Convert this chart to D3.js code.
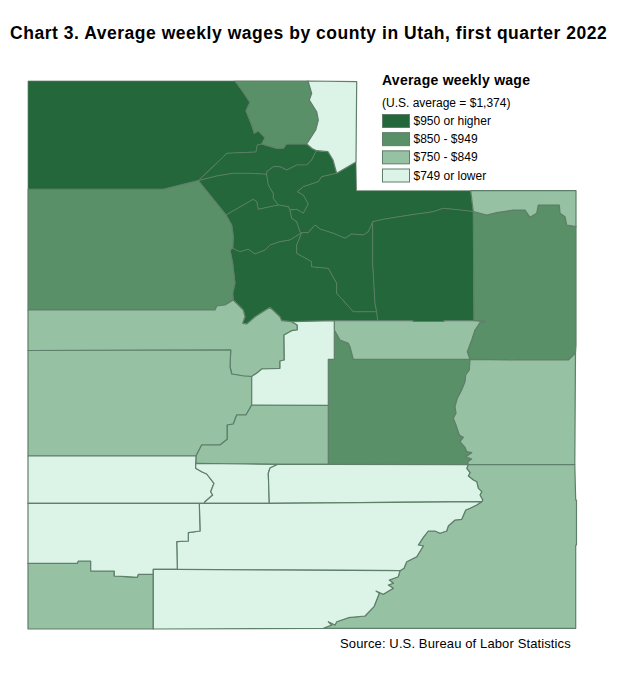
<!DOCTYPE html>
<html>
<head>
<meta charset="utf-8">
<script src="https://cdn.jsdelivr.net/npm/d3@7"></script>
<style>
	html, body { margin: 0; padding: 0; background: #fff; }
	svg { display: block; }
	text { font-family: "Liberation Sans", Arial, sans-serif; fill: #000; }
</style>
</head>
<body>
<div id="chart"></div>
<script>
var titleText = 'Chart 3. Average weekly wages by county in Utah, first quarter 2022';
var sourceText = 'Source: U.S. Bureau of Labor Statistics';
var legendTitle = 'Average weekly wage';
var legendNote = '(U.S. average = $1,374)';
var legendLabels = ['$950 or higher', '$850 - $949', '$750 - $849', '$749 or lower'];

var countyNames = ['Box Elder', 'Cache', 'Rich', 'Weber', 'Davis', 'Morgan', 'Salt Lake', 'Summit', 'Tooele', 'Utah',
	'Wasatch', 'Duchesne', 'Daggett', 'Uintah', 'Carbon', 'Emery', 'Grand', 'Sanpete', 'Juab', 'Millard',
	'Sevier', 'Beaver', 'Piute', 'Wayne', 'Garfield', 'Iron', 'Kane', 'Washington', 'San Juan'];
// index into legendLabels, same order as countyNames
var countyClasses = [0, 1, 3, 0, 0, 0, 0, 0, 1, 0,
	0, 0, 2, 1, 2, 1, 2, 3, 2, 2,
	2, 3, 3, 3, 3, 3, 3, 2, 2];

var boxCache = [[235,81],[241.7,90],[250,102.3],[246,110.7],[251.7,125],[254.3,133.3],[258.3,130.7],[265,137.7],[261.7,144]];
var boxWeber = [[261.7,144],[257.3,145],[256,152],[227,153.3],[198.3,180.7]];
var boxTooele = [[198.3,180.7],[163.3,189.3],[28,189.3]];
var cacheWeber = [[261.7,144],[276.7,148.3],[283.3,148.3],[286.7,144],[306.7,144]];
var cacheRich = [[308,81],[311.7,93.3],[309.3,100],[316.7,111.7],[318.3,120],[315.7,130],[306.7,144]];
var weberRich = [[306.7,144],[312,148.5],[316.7,150.7]];
var morganRich = [[316.7,150.7],[328,151.7],[333,160],[336.7,173.3]];
var summitRich = [[336.7,173.3],[356,162]];
var weberDavis = [[198.3,180.7],[216.7,176],[233.3,173.3],[250,173.3],[266.7,174.3]];
var weberMorgan = [[266.7,174.3],[266.7,171.7],[273.3,166.7],[280,166.7],[286.7,170],[296.7,165],[306.7,165],[311.7,160],[315,153.3],[316.7,150.7]];
var davisMorgan = [[266.7,174.3],[268.3,185],[273.3,193.3],[273.3,198.3],[278.3,205]];
var morganSaltLake = [[278.3,205],[288.3,206.7],[290,210]];
var morganSummit = [[290,210],[296.7,209.3],[303.3,213.3],[308.3,204],[303.3,195],[297.3,191.7],[303.3,186.7],[318.3,181.7],[321.7,176.7],[336.7,173.3]];
var saltLakeSummit = [[290,210],[291.7,218.3],[296.7,221.7],[300,231.7],[301.7,232.7]];
var davisSaltLake = [[226,215],[253.3,199.3],[256.7,201.7],[258.3,209.3],[278.3,205]];
var tooeleDavis = [[198.3,180.7],[226,215]];
var tooeleSaltLake = [[226,215],[231.7,225],[233.3,236.7],[232.7,248.3]];
var saltLakeUtah = [[232.7,248.3],[240,251.7],[248.3,249.3],[255,254],[265,250],[270,245],[280,241.7],[290,240],[301.7,232.7]];
var tooeleUtah = [[232.7,248.3],[230,250],[232.7,263.3],[235,283.3],[232.7,293.3],[233.3,300]];
var tooeleJuab = [[233.3,300],[225,305],[216.7,306],[215,310],[28,310]];
var utahJuab = [[233.3,300],[243.3,310],[245,316.7],[242.7,323.3],[246.7,324],[255,316.7],[270,307.3],[280,316.7],[281.7,320.7],[291.7,321.7]];
var utahSanpete = [[291.7,321.7],[334.3,320.7]];
var utahCarbon = [[334.3,320.7],[377.7,320.7]];
var utahWasatch = [[301.7,232.7],[296.7,245],[296.7,253.3],[311.7,261.7],[311.7,266.7],[328.3,268.3],[336.7,283.3],[336.7,293.3],[353.3,311.7],[376.7,311.7]];
var summitWasatch = [[301.7,232.7],[308.3,232.7],[315,225],[320,229],[333.3,233.3],[345,238.3],[351.7,234],[363.3,235],[368.3,231.7],[371,226],[372.7,221.7]];
var wasatchDuchesne = [[372.7,221.7],[372.7,263.3],[375,303.3],[376.7,311.7]];
var utahDuchesne = [[376.7,311.7],[377.7,320.7]];
var summitDuchesne = [[372.7,221.7],[383.3,219.3],[410,215],[433.3,211.7],[443.3,208.3],[460,210],[473.3,211.5]];
var summitDaggett = [[470.7,190.7],[473.3,211.5]];
var duchesneUintah = [[473.3,211.5],[474,320.7]];
var duchesneCarbon = [[377.7,320.7],[413,320.7],[413,321.5],[444,321.5],[444,320.7],[474,320.7]];
var daggettUintah = [[473.3,211.5],[486.7,215],[496.7,212.7],[513.3,210],[525,210],[530,217.3],[536.7,213.3],[538.3,205],[559.3,205],[560,213.3],[565,216.7],[566.7,225],[576,226.7]];
var uintahCarbon = [[474,320.7],[485,321.7],[480,322.7],[475,330],[471.7,340],[467.3,351.7],[470,359.3]];
var uintahGrand = [[575.5,353],[568.3,360],[518,360],[470,359.3]];
var carbonEmery = [[334.3,330],[340,340],[348.3,343.3],[350,346.7],[353.3,359.3],[470,359.3]];
var carbonSanpete = [[334.3,320.7],[334.3,330]];
var emeryGrand = [[470,359.3],[469.3,370],[465.7,375],[465,381.7],[461.7,390],[457.3,398.3],[455,406.7],[456,413.3],[453.3,418.3],[456,425],[459.3,435],[463.3,437.3],[460,441.7],[465,447.3],[466.7,451.7],[471.7,452.7],[465.7,456.7],[471.7,459],[467.7,461.7],[468.3,464.7]];
var emerySanpete = [[334.3,330],[334.3,359.3],[328.3,359.3],[328.3,405.3]];
var emerySevier = [[328.3,405.3],[328.3,464.3]];
var emeryWayne = [[328.3,464.3],[468.3,464.7]];
var grandSanJuan = [[468.3,464.7],[574.8,464.5]];
var sanpeteSevier = [[328.3,405.3],[251.7,405]];
var sanpeteMillard = [[251.7,405],[251.7,376.5]];
var sanpeteJuab = [[251.7,376.5],[257.3,372.7],[261.7,369],[280,368.3],[280,361],[284.3,360],[284,335],[291.7,330.7],[297.3,330],[297.3,325],[291.7,321.7]];
var juabMillard = [[251.7,376.5],[244,376],[231.7,374],[230,366.7],[230.7,350],[28,350.5]];
var millardSevier = [[251.7,405],[246,415],[236.7,415],[233.3,424],[227.3,425],[227.3,439.3],[220,445],[201.7,445],[196,456]];
var millardBeaver = [[196,456],[28,456]];
var sevierBeaver = [[196,456],[195.7,463.3]];
var sevierPiute = [[195.7,463.3],[245,464],[278,464.3]];
var sevierWayne = [[278,464.3],[328.3,464.3]];
var beaverPiute = [[195.7,463.3],[195.7,468.3],[201.7,471.7],[206.7,474],[214,483.3],[210.7,491.7],[212.7,495],[205,501.7],[204.3,503.3]];
var beaverGarfield = [[204.3,503.3],[199.3,503.3]];
var beaverIron = [[199.3,503.3],[28,503.3]];
var piuteWayne = [[278,464.3],[270,468],[268.3,473.3],[269.3,503.3]];
var piuteGarfield = [[204.3,503.3],[269.3,503.3]];
var wayneGarfield = [[269.3,503.3],[481.7,501.7]];
var wayneSanJuan = [[468.3,464.7],[466.7,468.3],[470,472.7],[468.3,476],[473.3,480],[476.7,481.7],[478.3,488.3],[481.7,491.7],[480,495],[482.7,500],[481.7,501.7]];
var garfieldSanJuan = [[481.7,501.7],[476.7,505],[470,508.3],[465.7,510],[461.7,519.3],[455,520],[448.3,526],[446.7,531],[440,533.3],[435,531],[428.3,531],[423.3,537.3],[418.3,545],[423.3,546],[416.7,556.7],[406.7,561.7],[404,568.3],[400,570.7]];
var garfieldKane = [[177.3,569.3],[400,570.7]];
var ironGarfield = [[199.3,503.3],[200,531],[188.3,532.7],[188.3,541],[176.7,541.7],[177.3,569.3]];
var ironKane = [[153.3,569.3],[177.3,569.3]];
var ironKaneWest = [[153.3,574.3],[153.3,569.3]];
var ironWashington = [[28,563.3],[77.3,563.3],[78.3,561],[90.7,561],[90.7,571],[114.3,571],[114.3,576],[126.7,576.7],[137.3,577.3],[138.3,574.3],[153.3,574.3]];
var washingtonKane = [[153.3,574.3],[153.3,629]];
var kaneSanJuan = [[400,570.7],[398.3,576.7],[389.3,580],[393.3,583.3],[388.3,585],[393.3,588.3],[383.3,594.3],[376,591],[379.3,593.3],[374,606.7],[365,616],[348.3,617.7],[336.7,621.7],[335,625],[328.3,621.7],[331.7,625],[323.3,628.3]];

function rev(arc) {
	return arc.slice().reverse();
}

// join boundaries into one closed ring
function chain() {
	var ring = [];
	for (var i = 0; i < arguments.length; i++) {
		ring = ring.concat(arguments[i]);
	}
	ring.push(ring[0]);
	return ring;
}

var countyRings = [
	chain([[28,81]], boxCache, boxWeber, boxTooele),
	chain(boxCache.slice(0, 1), cacheRich, rev(cacheWeber), rev(boxCache)),
	chain([[308,81],[356.7,81.7]], rev(summitRich), rev(morganRich), rev(weberRich), rev(cacheRich)),
	chain(cacheWeber, weberRich, rev(weberMorgan), rev(weberDavis), rev(boxWeber)),
	chain(weberDavis, davisMorgan, rev(davisSaltLake), rev(tooeleDavis)),
	chain(weberMorgan, morganRich, rev(morganSummit), rev(morganSaltLake), rev(davisMorgan)),
	chain(davisSaltLake, morganSaltLake, saltLakeSummit, rev(saltLakeUtah), rev(tooeleSaltLake)),
	chain(morganSummit, summitRich, [[356.5,190.7]], summitDaggett, rev(summitDuchesne), rev(summitWasatch), rev(saltLakeSummit)),
	chain(tooeleDavis, tooeleSaltLake, tooeleUtah, tooeleJuab, rev(boxTooele)),
	chain(saltLakeUtah, utahWasatch, utahDuchesne, rev(utahCarbon), rev(utahSanpete), rev(utahJuab), rev(tooeleUtah)),
	chain(summitWasatch, wasatchDuchesne, rev(utahWasatch)),
	chain(summitDuchesne, duchesneUintah, rev(duchesneCarbon), rev(utahDuchesne), rev(wasatchDuchesne)),
	chain(summitDaggett, daggettUintah, [[576,190.7]]),
	chain(daggettUintah, [[576,345]], uintahGrand, rev(uintahCarbon), rev(duchesneUintah)),
	chain(utahCarbon, duchesneCarbon, uintahCarbon, rev(carbonEmery), rev(carbonSanpete)),
	chain(carbonEmery, emeryGrand, rev(emeryWayne), rev(emerySevier), rev(emerySanpete)),
	chain(rev(uintahGrand), rev(grandSanJuan), rev(emeryGrand)),
	chain(utahSanpete, carbonSanpete, emerySanpete, sanpeteSevier, sanpeteMillard, sanpeteJuab),
	chain(utahJuab, rev(sanpeteJuab), juabMillard, rev(tooeleJuab)),
	chain(rev(juabMillard), rev(sanpeteMillard), millardSevier, millardBeaver),
	chain(millardSevier, sevierBeaver, sevierPiute, sevierWayne, rev(emerySevier), sanpeteSevier),
	chain(rev(millardBeaver), sevierBeaver, beaverPiute, beaverGarfield, beaverIron),
	chain(sevierPiute, piuteWayne, rev(piuteGarfield), rev(beaverPiute)),
	chain(sevierWayne, emeryWayne, wayneSanJuan, rev(wayneGarfield), rev(piuteWayne)),
	chain(rev(beaverGarfield), piuteGarfield, wayneGarfield, garfieldSanJuan, rev(garfieldKane), rev(ironGarfield)),
	chain(rev(beaverIron), ironGarfield, rev(ironKane), rev(ironKaneWest), rev(ironWashington)),
	chain(ironKane, garfieldKane, kaneSanJuan, [[153.3,629]], rev(washingtonKane), ironKaneWest),
	chain(ironWashington, washingtonKane, [[28,629]]),
	chain(grandSanJuan, [[575.7,500],[576.5,500],[576.5,545],[575.7,545],[575.7,628.3]], rev(kaneSanJuan), rev(garfieldSanJuan), rev(wayneSanJuan))
];

var width = 618;
var height = 677;

var svg = d3.select('#chart').append('svg')
	.attr('width', width)
	.attr('height', height);

var counties = {
	type: 'FeatureCollection',
	features: countyNames.map(function(name, i) {
		return {
			type: 'Feature',
			properties: {name: name, wageClass: countyClasses[i]},
			geometry: {type: 'Polygon', coordinates: [countyRings[i]]}
		};
	})
};

var projection = d3.geoIdentity()
	.fitExtent([[28, 81], [576.5, 629]], counties);
var path = d3.geoPath(projection);

var color = d3.scaleOrdinal()
	.domain(d3.range(legendLabels.length))
	.range(['#23673a', '#5a9068', '#96c1a3', '#dcf4e8']);

svg.append('text')
	.attr('x', 10)
	.attr('y', 39)
	.attr('font-size', 17.5)
	.attr('letter-spacing', 0.53)
	.attr('font-weight', 'bold')
	.text(titleText);

// Draw the counties, darkest first so the thin lines stay inside the dark block
svg.append('g')
	.selectAll('path')
	.data(counties.features.slice().sort(function(a, b) {
		return a.properties.wageClass - b.properties.wageClass;
	}))
	.enter()
	.append('path')
	.attr('d', path)
	.attr('fill', function(d) { return color(d.properties.wageClass); })
	.attr('stroke', '#5e7f69')
	.attr('stroke-width', function(d) { return d.properties.wageClass === 0 ? 0.7 : 1.2; })
	.attr('stroke-linejoin', 'round');

// Legend
var legend = svg.append('g')
	.attr('transform', 'translate(382,0)');

legend.append('text')
	.attr('x', 0)
	.attr('y', 85)
	.attr('font-size', 14)
	.attr('letter-spacing', 0.25)
	.attr('font-weight', 'bold')
	.text(legendTitle);

legend.append('text')
	.attr('x', 0)
	.attr('y', 107)
	.attr('font-size', 12)
	.text(legendNote);

var legendScale = d3.scalePoint()
	.domain(d3.range(legendLabels.length))
	.range([114.5, 169]);

var legendRows = legend.selectAll('g.row')
	.data(legendLabels)
	.enter()
	.append('g')
	.attr('class', 'row')
	.attr('transform', function(d, i) { return 'translate(0,' + legendScale(i) + ')'; });

legendRows.append('rect')
	.attr('x', 0.5)
	.attr('y', 0)
	.attr('width', 27)
	.attr('height', 13)
	.attr('fill', function(d, i) { return color(i); })
	.attr('stroke', '#5e7f69')
	.attr('stroke-width', 1);

legendRows.append('text')
	.attr('x', 31.5)
	.attr('y', 10.5)
	.attr('font-size', 12)
	.text(function(d) { return d; });

svg.append('text')
	.attr('x', 340)
	.attr('y', 648)
	.attr('font-size', 13)
	.attr('letter-spacing', 0.12)
	.text(sourceText);
</script>
</body>
</html>
